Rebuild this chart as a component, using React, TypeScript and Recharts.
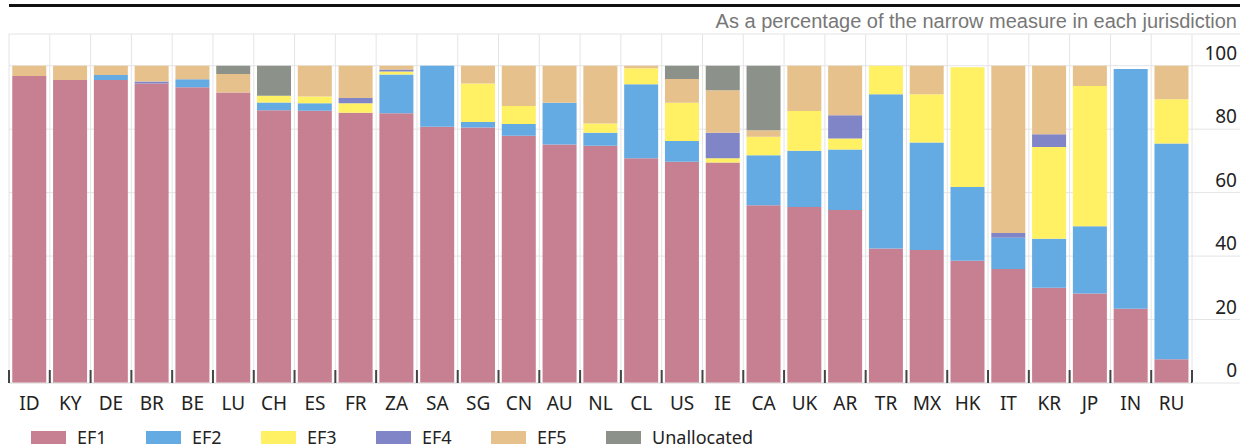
import React from 'react';
import { BarChart, Bar, XAxis, YAxis, CartesianGrid, Legend } from 'recharts';

const categories = ['ID', 'KY', 'DE', 'BR', 'BE', 'LU', 'CH', 'ES', 'FR', 'ZA', 'SA', 'SG', 'CN', 'AU', 'NL', 'CL', 'US', 'IE', 'CA', 'UK', 'AR', 'TR', 'MX', 'HK', 'IT', 'KR', 'JP', 'IN', 'RU'];
const ef1 = [96.8, 95.5, 95.5, 94.4, 93.2, 91.6, 86.0, 85.8, 85.2, 85.0, 80.8, 80.5, 77.9, 75.2, 74.8, 70.8, 69.7, 69.5, 56.0, 55.5, 54.5, 42.4, 41.9, 38.5, 35.9, 30.0, 28.2, 23.4, 7.5];
const ef2 = [0, 0, 1.6, 0, 2.5, 0, 2.4, 2.4, 0, 12.2, 19.2, 1.8, 3.7, 13.1, 4.1, 23.4, 6.6, 0, 15.8, 17.7, 19.1, 48.6, 33.9, 23.3, 9.9, 15.5, 21.2, 75.6, 68.0];
const ef3 = [0, 0, 0, 0, 0, 0, 2.1, 2.1, 3.0, 1.0, 0, 12.1, 5.7, 0, 2.9, 5.0, 12.0, 1.3, 5.8, 12.5, 3.5, 9.0, 15.2, 37.7, 0, 28.9, 44.2, 0, 13.9];
const ef4 = [0, 0, 0, 0.6, 0, 0, 0, 0, 1.6, 0.6, 0, 0, 0, 0, 0, 0, 0, 8.1, 0, 0, 7.3, 0, 0, 0, 1.5, 4.0, 0, 0, 0];
const ef5 = [3.2, 4.5, 2.9, 5.0, 4.3, 5.8, 0, 9.7, 10.2, 1.2, 0, 5.6, 12.7, 11.7, 18.2, 0.8, 7.5, 13.4, 2.1, 14.3, 15.6, 0, 9.0, 0, 52.7, 21.6, 6.4, 0, 10.6];
const unallocated = [0, 0, 0, 0, 0, 2.6, 9.5, 0, 0, 0, 0, 0, 0, 0, 0, 0, 4.2, 7.7, 20.3, 0, 0, 0, 0, 0, 0, 0, 0, 0, 0];
const yTicks = [0, 20, 40, 60, 80, 100, 110];

const series = [
  { key: 'EF1', values: ef1, color: '#C78091' },
  { key: 'EF2', values: ef2, color: '#64AAE3' },
  { key: 'EF3', values: ef3, color: '#FFF064' },
  { key: 'EF4', values: ef4, color: '#8085C8' },
  { key: 'EF5', values: ef5, color: '#E6C18C' },
  { key: 'Unallocated', values: unallocated, color: '#8C928A' },
];

const data = categories.map((code, i) => {
  const row: Record<string, string | number> = { code };
  series.forEach((s) => { row[s.key] = s.values[i]; });
  return row;
});

const W = 1240;
const H = 448;
const LEFT = 9;
const AXIS_W = 48;
const PLOT_W = W - LEFT - AXIS_W;
const FONT = '"Noto Sans", "Open Sans", sans-serif';
const GRID = '#e4e4e4';

// ticks sit on the category boundaries, labels in the middle
const CatTick = (props: any) => {
  const { x, y, payload, index } = props;
  const step = PLOT_W / categories.length;
  return (
    <g>
      <line x1={x - step / 2} x2={x - step / 2} y1={y - 13} y2={y} stroke="#444" strokeWidth={2} />
      {index === categories.length - 1 && (
        <line x1={x + step / 2} x2={x + step / 2} y1={y - 13} y2={y} stroke="#444" strokeWidth={2} />
      )}
      <text x={x} y={y + 27} textAnchor="middle" fontSize={19} fontFamily={FONT} fill="#222">
        {payload.value}
      </text>
    </g>
  );
};

// gridline runs on under the right-hand labels
const ValTick = (props: any) => {
  const { x, y, payload } = props;
  return (
    <g>
      <line x1={x} x2={W} y1={y} y2={y} stroke={GRID} />
      {payload.value <= 100 && (
        <text x={W - 3} y={y - 6} textAnchor="end" fontSize={19} fontFamily={FONT} fill="#222">
          {payload.value}
        </text>
      )}
    </g>
  );
};

const LegendBox = () => (
  <div style={{ position: 'relative', height: 24, width: W }}>
    {series.map((s, i) => (
      <div
        key={s.key}
        style={{ position: 'absolute', left: 31 + i * 115, top: 3, height: 20, display: 'flex', alignItems: 'center' }}
      >
        <span style={{ display: 'inline-block', width: 35, height: 13, background: s.color }} />
        <span style={{ marginLeft: 11, fontSize: 18, lineHeight: '20px', color: '#222', fontFamily: FONT }}>{s.key}</span>
      </div>
    ))}
  </div>
);

const App = () => {
  return (
    <div style={{ position: 'absolute', left: 0, top: 0, width: W, height: H, background: '#fff', fontFamily: FONT }}>
      <div style={{ position: 'absolute', left: LEFT, top: 4, width: W - LEFT, height: 3, background: '#111' }} />
      <div
        style={{
          position: 'absolute', right: 3, top: 11, lineHeight: '20px', fontSize: 20,
          fontFamily: '"Liberation Sans", Arial, sans-serif', color: '#777', whiteSpace: 'nowrap',
        }}
      >
        As a percentage of the narrow measure in each jurisdiction
      </div>
      <BarChart
        width={W}
        height={H}
        data={data}
        margin={{ top: 34, right: 0, left: LEFT, bottom: 0 }}
        barCategoryGap="8%"
      >
        <CartesianGrid
          stroke={GRID}
          verticalCoordinatesGenerator={({ offset }: any) =>
            Array.from({ length: categories.length + 1 }, (_, i) => offset.left + (i * offset.width) / categories.length)
          }
        />
        <XAxis
          dataKey="code"
          interval={0}
          height={41}
          tickSize={0}
          tickMargin={0}
          tickLine={false}
          axisLine={{ stroke: GRID }}
          tick={<CatTick />}
        />
        <YAxis
          orientation="right"
          width={AXIS_W}
          domain={[0, 110]}
          ticks={yTicks}
          allowDataOverflow
          tickSize={0}
          tickMargin={0}
          tickLine={false}
          axisLine={false}
          tick={<ValTick />}
        />
        <Legend verticalAlign="bottom" wrapperStyle={{ left: 0, width: W, height: 24 }} content={() => <LegendBox />} />
        {series.map((s) => (
          <Bar key={s.key} dataKey={s.key} stackId="a" fill={s.color} isAnimationActive={false} />
        ))}
      </BarChart>
    </div>
  );
};

export default App;
